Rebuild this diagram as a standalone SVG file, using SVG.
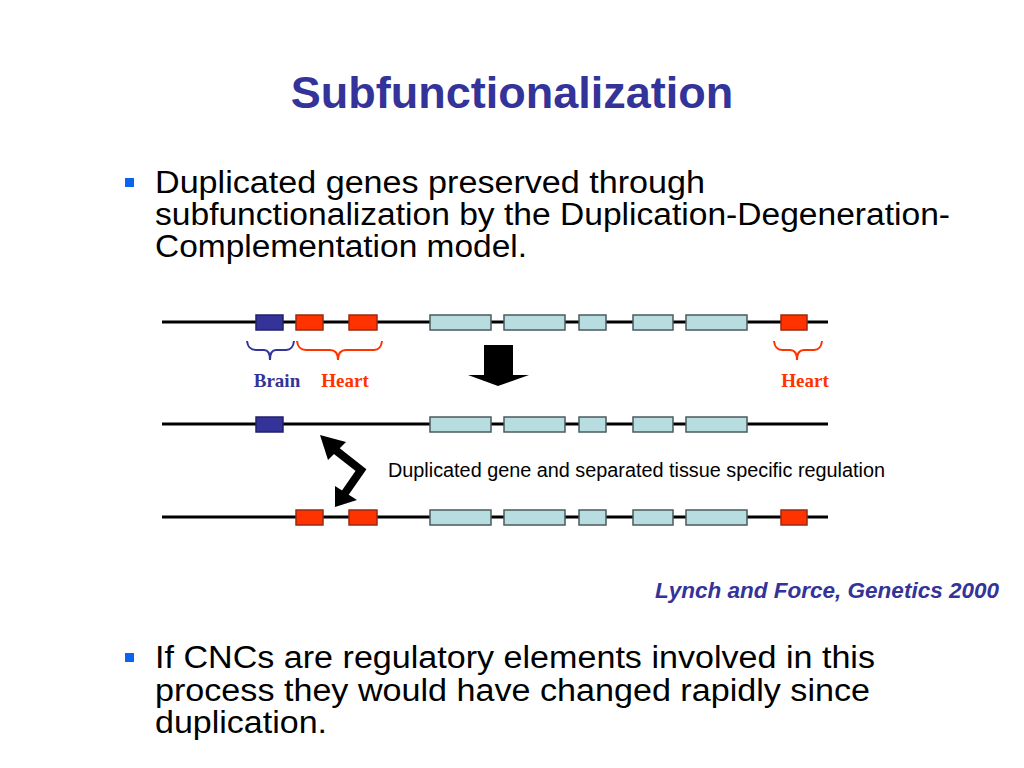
<svg xmlns="http://www.w3.org/2000/svg" width="1024" height="768" viewBox="0 0 1024 768">
<style>
.title{font-family:"Liberation Sans",Arial,sans-serif;font-weight:bold;font-size:45px;fill:#333399}
.body{font-family:"Liberation Sans",Arial,sans-serif;font-size:31px;fill:#000}
.bul{fill:#0a64f0}
.dna{stroke:#000;stroke-width:3}
.exon{fill:#b7dde1;stroke:#4a5a5c;stroke-width:1.5}
.brain{fill:#333399;stroke:#22226a;stroke-width:1.5}
.heart{fill:#ff3300;stroke:#9a2a10;stroke-width:1.5}
.lbl{font-family:"Liberation Serif","Times New Roman",serif;font-weight:bold;font-size:19px;text-anchor:middle}
.bb{fill:none;stroke:#333399;stroke-width:2}
.hb{fill:none;stroke:#ff3300;stroke-width:2}
.note{font-family:"Liberation Sans",Arial,sans-serif;font-size:19.5px;fill:#000}
.cite{font-family:"Liberation Sans",Arial,sans-serif;font-weight:bold;font-style:italic;font-size:22px;fill:#333399;text-anchor:end}
</style>
<defs>
<g id="exons">
<rect class="exon" x="430" y="0" width="61" height="15"/>
<rect class="exon" x="504" y="0" width="61" height="15"/>
<rect class="exon" x="579" y="0" width="27" height="15"/>
<rect class="exon" x="633" y="0" width="40" height="15"/>
<rect class="exon" x="686" y="0" width="61" height="15"/>
</g>
</defs>
<rect width="1024" height="768" fill="#fff"/>
<text class="title" x="512" y="108" text-anchor="middle">Subfunctionalization</text>

<g id="bullet1">
<rect class="bul" x="125" y="178" width="9" height="9"/>
<text class="body" x="155" y="193" textLength="550" lengthAdjust="spacingAndGlyphs">Duplicated genes preserved through</text>
<text class="body" x="155" y="225" textLength="795" lengthAdjust="spacingAndGlyphs">subfunctionalization by the Duplication-Degeneration-</text>
<text class="body" x="155" y="257" textLength="372" lengthAdjust="spacingAndGlyphs">Complementation model.</text>
</g>

<g id="gene1">
<line class="dna" x1="162" y1="322" x2="828" y2="322"/>
<rect class="brain" x="256" y="315" width="27" height="15"/>
<rect class="heart" x="296" y="315" width="27" height="15"/>
<rect class="heart" x="349" y="315" width="28" height="15"/>
<use href="#exons" y="315"/>
<rect class="heart" x="781" y="315" width="26" height="15"/>
</g>

<g id="labels">
<path class="bb" d="M247,341 Q248,350 256,350 L264,350 Q270,350 270,360 Q270,350 276,350 L286,350 Q293,350 294,341"/>
<path class="hb" d="M297,341 Q298,350 306,350 L330,350 Q338,350 338,360 Q338,350 346,350 L374,350 Q381,350 382,341"/>
<path class="hb" d="M774,341 Q775,350 782,350 L790,350 Q797,350 797,360 Q797,350 804,350 L814,350 Q821,350 822,341"/>
<text class="lbl" x="277" y="387" fill="#333399">Brain</text>
<text class="lbl" x="345" y="387" fill="#ff3300">Heart</text>
<text class="lbl" x="805" y="387" fill="#ff3300">Heart</text>
</g>

<g id="gene2">
<line class="dna" x1="162" y1="424" x2="828" y2="424"/>
<rect class="brain" x="256" y="417" width="27" height="15"/>
<use href="#exons" y="417"/>
</g>

<g id="gene3">
<line class="dna" x1="162" y1="517" x2="828" y2="517"/>
<rect class="heart" x="296" y="510" width="27" height="15"/>
<rect class="heart" x="349" y="510" width="28" height="15"/>
<use href="#exons" y="510"/>
<rect class="heart" x="781" y="510" width="26" height="15"/>
</g>

<g id="connectors">
<polygon points="484,345 513,345 513,375 529,375 498,386 468,375 484,375" fill="#000"/>
<polyline points="329,445 361,470 343,496" fill="none" stroke="#000" stroke-width="8" stroke-linejoin="miter"/>
<polygon points="320,435 346,442 328,460" fill="#000"/>
<polygon points="335,507 357,500 335,486" fill="#000"/>
</g>

<text class="note" x="388" y="477" textLength="497" lengthAdjust="spacingAndGlyphs">Duplicated gene and separated tissue specific regulation</text>
<text class="cite" x="999" y="598" textLength="344" lengthAdjust="spacingAndGlyphs">Lynch and Force, Genetics 2000</text>

<g id="bullet2">
<rect class="bul" x="125" y="653" width="9" height="9"/>
<text class="body" x="155" y="668" textLength="720" lengthAdjust="spacingAndGlyphs">If CNCs are regulatory elements involved in this</text>
<text class="body" x="155" y="701" textLength="715" lengthAdjust="spacingAndGlyphs">process they would have changed rapidly since</text>
<text class="body" x="155" y="733" textLength="172" lengthAdjust="spacingAndGlyphs">duplication.</text>
</g>
</svg>
